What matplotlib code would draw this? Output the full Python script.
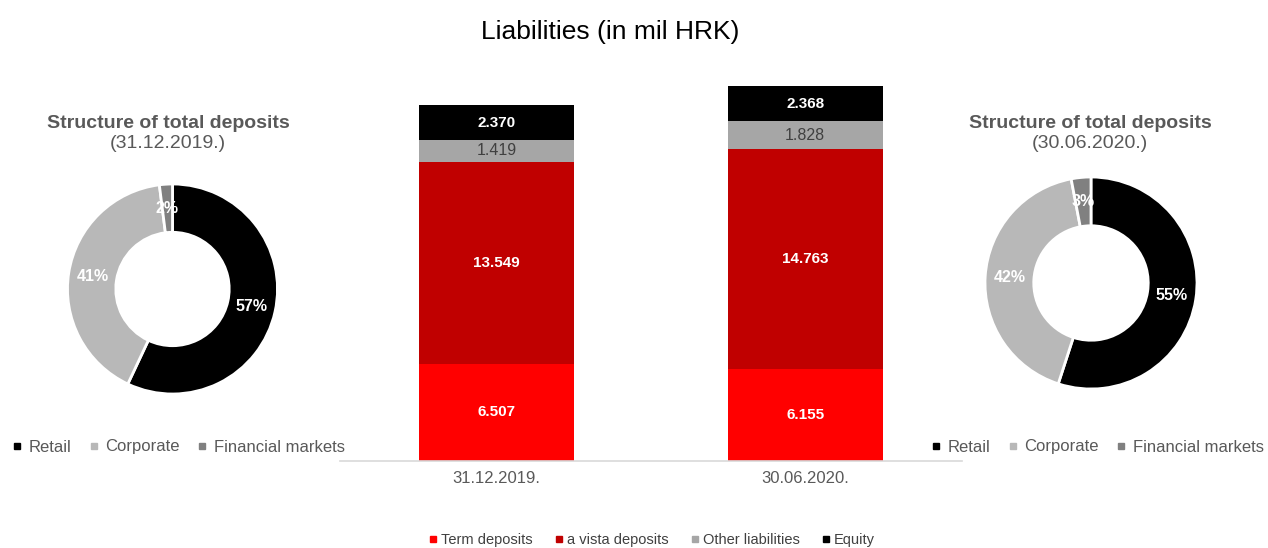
import matplotlib
matplotlib.use("Agg")
import matplotlib.pyplot as plt
from matplotlib.lines import Line2D
import numpy as np

plt.rcParams['font.family'] = ['Liberation Sans', 'DejaVu Sans']

# bar chart data (mil HRK)
dates = ["31.12.2019.", "30.06.2020."]
series_names = ["Term deposits", "a vista deposits", "Other liabilities", "Equity"]
term_deposits = [6507, 6155]
a_vista_deposits = [13549, 14763]
other_liabilities = [1419, 1828]
equity = [2370, 2368]

# donut data (%)
pie_labels = ["Retail", "Corporate", "Financial markets"]
pie_2019 = [57, 41, 2]
pie_2020 = [55, 42, 3]
pie_dates = ["(31.12.2019.)", "(30.06.2020.)"]

bar_colors = ["#FF0000", "#C00000", "#A6A6A6", "#000000"]
bar_text_colors = ["white", "white", "#404040", "white"]
bar_text_weights = ["bold", "bold", "normal", "bold"]
pie_colors = ["#000000", "#B8B8B8", "#808080"]
grey_text = "#595959"

W, H = 1268, 548
fig = plt.figure(figsize=(W / 100, H / 100), dpi=100)


def fx(px):
    return px / W


def fy(py):
    return 1 - py / H


# ---- stacked bars ----
ax = fig.add_axes([fx(340), fy(461), fx(962) - fx(340), fy(70) - fy(461)])
x = np.arange(len(dates))
stack = [term_deposits, a_vista_deposits, other_liabilities, equity]
bottom = np.zeros(len(dates))
for vals, name, col, tcol, tw in zip(stack, series_names, bar_colors, bar_text_colors, bar_text_weights):
    vals = np.array(vals, dtype=float)
    ax.bar(x, vals, width=0.502, bottom=bottom, color=col, label=name)
    for xi, b, v in zip(x, bottom, vals):
        ax.text(xi, b + v / 2, f"{int(v):,}".replace(",", "."), ha="center", va="center",
                color=tcol, fontsize=11.5 if tw == "normal" else 11, fontweight=tw)
    bottom += vals

ax.set_xlim(-0.508, 1.508)
ax.set_ylim(0, 26190)
ax.set_xticks(x)
ax.set_xticklabels(dates, fontsize=12, color=grey_text)
ax.tick_params(axis="x", length=0, pad=7)
ax.set_yticks([])
for s in ["left", "right", "top"]:
    ax.spines[s].set_visible(False)
ax.spines["bottom"].set_color("#D9D9D9")
ax.spines["bottom"].set_linewidth(1.2)

handles = [Line2D([], [], marker="s", linestyle="none", color=c, markersize=5) for c in bar_colors]
fig.legend(handles, series_names, loc="center", bbox_to_anchor=(fx(651), fy(540)), ncol=4,
           frameon=False, fontsize=10.5, handletextpad=0.15, columnspacing=1.4,
           handlelength=0.8, labelcolor="#404040")

fig.text(fx(610), fy(32), "Liabilities (in mil HRK)", ha="center", va="center", fontsize=19)


# ---- donuts ----
def donut(cx, cy, r, values, date_label, title_x, legend_x):
    pax = fig.add_axes([fx(cx - r), fy(cy + r), fx(2 * r), fy(cy - r) - fy(cy + r)])
    wedges, _, autotexts = pax.pie(values, colors=pie_colors, startangle=90, counterclock=False,
                                   autopct=lambda p: f"{p:.0f}%", pctdistance=0.77,
                                   wedgeprops=dict(width=0.46, edgecolor="white", linewidth=2))
    for t in autotexts:
        t.set_color("white")
        t.set_fontsize(11.5)
        t.set_fontweight("bold")
    pax.set_xlim(-1, 1)
    pax.set_ylim(-1, 1)
    fig.text(fx(title_x), fy(123), "Structure of total deposits", ha="center", va="center",
             fontsize=14, fontweight="bold", color=grey_text)
    fig.text(fx(title_x), fy(143), date_label, ha="center", va="center",
             fontsize=14, color=grey_text)
    hs = [Line2D([], [], marker="s", linestyle="none", color=c, markersize=4.5) for c in pie_colors]
    fig.legend(hs, pie_labels, loc="center", bbox_to_anchor=(fx(legend_x), fy(447)), ncol=3,
               frameon=False, fontsize=12, handletextpad=0.35, columnspacing=1.0,
               handlelength=0.7, labelcolor=grey_text)


donut(172.5, 289, 105, pie_2019, pie_dates[0], 168, 178)
donut(1091, 283, 106, pie_2020, pie_dates[1], 1090, 1097)

fig.savefig("out.png", dpi=100)
